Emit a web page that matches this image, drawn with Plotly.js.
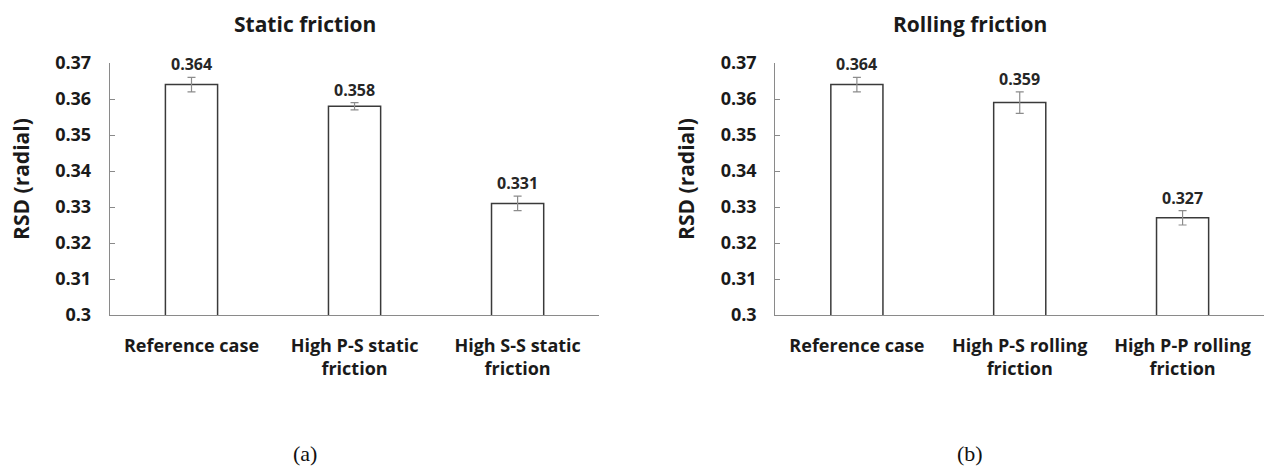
<!DOCTYPE html>
<html>
<head>
<meta charset="utf-8">
<script src="https://cdn.plot.ly/plotly-3.0.1.min.js"></script>
<style>
  html, body { margin: 0; padding: 0; background: #fff; }
  #chart { width: 1264px; height: 468px; }
</style>
</head>
<body>
<div id="chart"></div>
<script>
// chart data
const titlesTop = ['Static friction', 'Rolling friction'];
const panelTags = ['(a)', '(b)'];
const yLabel = 'RSD (radial)';

const catsA = ['Reference case', 'High P-S static<br>friction', 'High S-S static<br>friction'];
const valsA = [0.364, 0.358, 0.331];
const errA = [0.002, 0.001, 0.002];

const catsB = ['Reference case', 'High P-S rolling<br>friction', 'High P-P rolling<br>friction'];
const valsB = [0.364, 0.359, 0.327];
const errB = [0.002, 0.003, 0.002];

const yTicks = [0.3, 0.31, 0.32, 0.33, 0.34, 0.35, 0.36, 0.37];

const FONT = '"Open Sans", "Liberation Sans", sans-serif';

function barTrace(cats, vals, errs, xa, ya) {
  return {
    type: 'bar', x: cats, y: vals, xaxis: xa, yaxis: ya,
    marker: { color: '#ffffff', line: { color: '#3a3a3a', width: 1.5 } },
    error_y: { type: 'data', array: errs, visible: true, color: '#8c8c8c', thickness: 1.2, width: 4 },
    hoverinfo: 'skip', showlegend: false
  };
}

const data = [
  barTrace(catsA, valsA, errA, 'x', 'y'),
  barTrace(catsB, valsB, errB, 'x2', 'y2')
];

// 공통 축 설정
const yBase = {
  range: [0.3, 0.37], tickvals: yTicks, tickformat: '.2~f',
  showgrid: false, zeroline: false,
  showline: true, linecolor: '#8a8a8a', linewidth: 1.2,
  ticks: 'inside', ticklen: 5, tickcolor: '#8a8a8a',
  ticklabelstandoff: 14,
  tickfont: { family: FONT, size: 18, color: '#1a1a1a', weight: 'bold' }
};
const xBase = {
  type: 'category', showgrid: false, zeroline: false,
  showline: true, linecolor: '#8a8a8a', linewidth: 1.2,
  ticks: '', ticklabelstandoff: 14,
  tickfont: { family: FONT, size: 18, color: '#1a1a1a', weight: 'bold' }
};

const annotations = [];
function labels(cats, vals, errs, xa, ya) {
  cats.forEach((c, i) => {
    annotations.push({
      x: c, y: vals[i] + errs[i], xref: xa, yref: ya,
      text: vals[i].toFixed(3), showarrow: false, yanchor: 'bottom', yshift: 0,
      font: { family: FONT, size: 16, color: '#262626', weight: 'bold' }
    });
  });
}
labels(catsA, valsA, errA, 'x', 'y');
labels(catsB, valsB, errB, 'x2', 'y2');

const titleX = [0.2413, 0.7674];
const yTitleX = [0.0166, 0.5427];
titlesTop.forEach((t, i) => {
  annotations.push({
    x: titleX[i], y: 1.155, xref: 'paper', yref: 'paper', text: t, showarrow: false,
    xanchor: 'center', yanchor: 'middle',
    font: { family: FONT, size: 21, color: '#1a1a1a', weight: 'bold' }
  });
  annotations.push({
    x: titleX[i], y: -0.548, xref: 'paper', yref: 'paper', text: panelTags[i], showarrow: false,
    xanchor: 'center', yanchor: 'middle',
    font: { family: '"Liberation Serif", "DejaVu Serif", serif', size: 22, color: '#111' }
  });
  annotations.push({
    x: yTitleX[i], y: 0.54, xref: 'paper', yref: 'paper', text: yLabel, showarrow: false,
    textangle: -90, xanchor: 'center', yanchor: 'middle',
    font: { family: FONT, size: 21, color: '#1a1a1a', weight: 'bold' }
  });
});

const layout = {
  width: 1264, height: 468,
  margin: { l: 0, r: 0, t: 63, b: 153 },
  paper_bgcolor: '#ffffff', plot_bgcolor: '#ffffff',
  bargap: 0.68,
  xaxis: Object.assign({}, xBase, { domain: [0.087, 0.474], anchor: 'y' }),
  yaxis: Object.assign({}, yBase, { anchor: 'x' }),
  xaxis2: Object.assign({}, xBase, { domain: [0.6135, 1.0], anchor: 'y2' }),
  yaxis2: Object.assign({}, yBase, { anchor: 'x2' }),
  annotations: annotations
};

Plotly.newPlot('chart', data, layout, { displayModeBar: false, staticPlot: true });
</script>
</body>
</html>
